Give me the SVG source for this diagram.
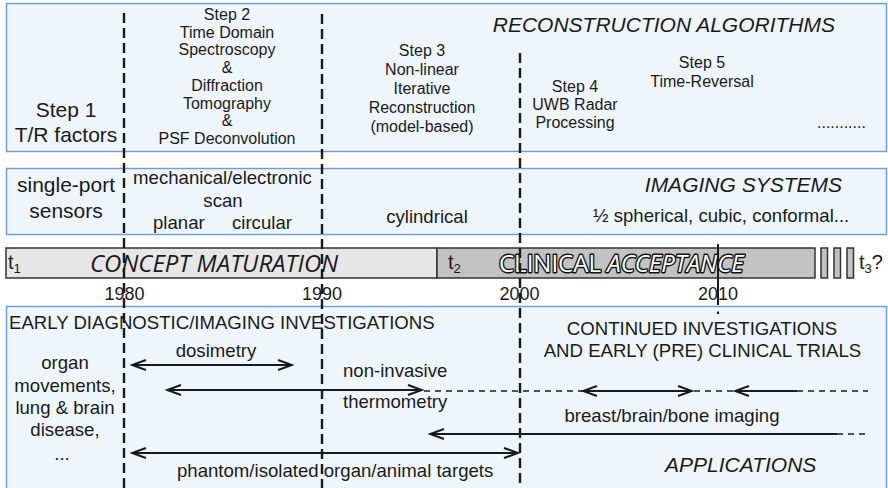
<svg xmlns="http://www.w3.org/2000/svg" width="888" height="488" viewBox="0 0 888 488">
  <defs>
    <marker id="head" viewBox="-16 -7 18 14" refX="0" refY="0" markerWidth="18" markerHeight="14" markerUnits="userSpaceOnUse" orient="auto-start-reverse">
      <path d="M-14,-5 L0,0 L-14,5" fill="none" stroke="#1a1a1a" stroke-width="2"/>
    </marker>
    <style>
      text { font-family: "Liberation Sans", Arial, sans-serif; fill: #1a1a1a; }
      .panel { fill: #eef6fc; stroke: #6f9fd8; stroke-width: 1.5; }
      .title { font-size: 21px; font-style: italic; }
      .big { font-size: 21px; }
      .step { font-size: 16px; text-anchor: middle; }
      .mid { font-size: 18.6px; }
      .c { text-anchor: middle; }
      .year { font-size: 18px; text-anchor: middle; }
      .era { font-family: "Open Sans", "Liberation Sans", sans-serif; font-size: 24px; }
      .bar { stroke: #333; stroke-width: 1.5; }
      .tl { font-size: 20px; }
      .sub { font-size: 13px; }
      .divider { stroke: #1a1a1a; stroke-width: 2.4; stroke-dasharray: 10 5; fill: none; }
      .span { stroke: #1a1a1a; stroke-width: 2; fill: none; }
      .ext { stroke: #1a1a1a; stroke-width: 1.5; stroke-dasharray: 6 5; fill: none; }
    </style>
  </defs>

  <!-- Reconstruction algorithms panel -->
  <g id="algorithms">
    <rect class="panel" x="6.5" y="3.5" width="880" height="148"/>
    <text class="title" x="835" y="32" text-anchor="end">RECONSTRUCTION ALGORITHMS</text>
    <g id="step1">
      <text class="big c" x="66" y="117">Step 1</text>
      <text class="big c" x="66" y="142">T/R factors</text>
    </g>
    <g id="step2">
      <text class="step" x="227" y="20">Step 2</text>
      <text class="step" x="227" y="37.7">Time Domain</text>
      <text class="step" x="227" y="55.4">Spectroscopy</text>
      <text class="step" x="227" y="73.1">&amp;</text>
      <text class="step" x="227" y="90.8">Diffraction</text>
      <text class="step" x="227" y="108.5">Tomography</text>
      <text class="step" x="227" y="126.2">&amp;</text>
      <text class="step" x="227" y="143.9">PSF Deconvolution</text>
    </g>
    <g id="step3">
      <text class="step" x="422" y="56">Step 3</text>
      <text class="step" x="422" y="75">Non-linear</text>
      <text class="step" x="422" y="94">Iterative</text>
      <text class="step" x="422" y="113">Reconstruction</text>
      <text class="step" x="422" y="132">(model-based)</text>
    </g>
    <g id="step4">
      <text class="step" x="575" y="92">Step 4</text>
      <text class="step" x="575" y="110">UWB Radar</text>
      <text class="step" x="575" y="128">Processing</text>
    </g>
    <g id="step5">
      <text class="step" x="702" y="68">Step 5</text>
      <text class="step" x="702" y="87">Time-Reversal</text>
    </g>
    <text x="817" y="128" font-size="16">...........</text>
  </g>

  <!-- Imaging systems panel -->
  <g id="systems">
    <rect class="panel" x="6.5" y="168.5" width="880" height="66"/>
    <text class="big c" x="66" y="192">single-port</text>
    <text class="big c" x="66" y="218">sensors</text>
    <text class="mid c" x="222.5" y="184">mechanical/electronic</text>
    <text class="mid c" x="223" y="207">scan</text>
    <text class="mid" x="153" y="229">planar</text>
    <text class="mid" x="232" y="229">circular</text>
    <text class="mid c" x="427" y="223">cylindrical</text>
    <text class="title" x="842" y="192" text-anchor="end">IMAGING SYSTEMS</text>
    <text class="mid" x="593" y="222">½ spherical, cubic, conformal...</text>
  </g>

  <!-- Time line bar -->
  <g id="timeline">
    <rect class="bar" x="6" y="248" width="431" height="30" fill="#e6e6e6"/>
    <rect class="bar" x="437" y="248" width="378" height="30" fill="#c2c2c2"/>
    <rect class="bar" x="821" y="248" width="6.5" height="30" fill="#c2c2c2"/>
    <rect class="bar" x="834" y="248" width="6.5" height="30" fill="#c2c2c2"/>
    <rect class="bar" x="847" y="248" width="6.5" height="30" fill="#c2c2c2"/>
    <text class="tl" x="8" y="269">t<tspan class="sub" dy="4">1</tspan></text>
    <text class="tl" x="448" y="269">t<tspan class="sub" dy="4">2</tspan></text>
    <text class="tl" x="859" y="269">t<tspan class="sub" dy="4">3</tspan><tspan dy="-4">?</tspan></text>
    <text class="era" x="90" y="272" font-style="italic">CONCEPT MATURATION</text>
    <!-- outlined lettering: dark stroke underneath, white fill on top -->
    <g opacity="0.99">
      <text class="era" x="499" y="272" style="fill:none;stroke:#111;stroke-width:2.8;stroke-linejoin:round">CLINICAL <tspan font-style="italic">ACCEPTANCE</tspan></text>
      <text class="era" x="499" y="272" style="fill:#ffffff">CLINICAL <tspan font-style="italic">ACCEPTANCE</tspan></text>
    </g>
  </g>

  <!-- Year labels -->
  <g id="years">
    <text class="year" x="124.5" y="300">1980</text>
    <text class="year" x="322" y="300">1990</text>
    <text class="year" x="519.5" y="300">2000</text>
    <text class="year" x="718" y="300">2010</text>
  </g>

  <!-- Applications panel -->
  <g id="applications">
    <rect class="panel" x="6.5" y="306.5" width="880" height="190"/>
    <text class="mid" x="9" y="329" font-size="19.2">EARLY DIAGNOSTIC/IMAGING INVESTIGATIONS</text>
    <text class="mid c" x="702" y="335">CONTINUED INVESTIGATIONS</text>
    <text class="mid c" x="702.5" y="357">AND EARLY (PRE) CLINICAL TRIALS</text>
    <text class="mid c" x="65" y="369">organ</text>
    <text class="mid c" x="65" y="392">movements,</text>
    <text class="mid c" x="65" y="414">lung &amp; brain</text>
    <text class="mid c" x="65" y="436">disease,</text>
    <text class="mid c" x="62" y="460">...</text>
    <text class="mid c" x="216" y="357">dosimetry</text>
    <text class="mid" x="343" y="377">non-invasive</text>
    <text class="mid" x="343" y="408">thermometry</text>
    <text class="mid c" x="672" y="422">breast/brain/bone imaging</text>
    <text class="mid" x="177" y="477">phantom/isolated organ/animal targets</text>
    <text class="title" x="665" y="472">APPLICATIONS</text>
  </g>

  <!-- Decade dividers, spans and arrows -->
  <g id="connectors">
    <line class="divider" x1="124" y1="13" x2="124" y2="488"/>
    <line class="divider" x1="322" y1="14" x2="322" y2="488"/>
    <line class="divider" x1="520" y1="53" x2="520" y2="488"/>
    <line class="span" x1="718" y1="244" x2="718" y2="305"/>
    <line class="span" x1="718" y1="311.5" x2="718" y2="314"/>

    <line class="span" x1="132" y1="365" x2="292" y2="365" marker-start="url(#head)" marker-end="url(#head)"/>

    <line class="span" x1="167" y1="390" x2="422" y2="390" marker-start="url(#head)" marker-end="url(#head)"/>
    <line class="ext" x1="424" y1="391" x2="583" y2="391"/>
    <line class="span" x1="583" y1="391" x2="692" y2="391" marker-start="url(#head)" marker-end="url(#head)"/>
    <line class="ext" x1="694" y1="391" x2="735" y2="391"/>
    <line class="span" x1="735" y1="391" x2="797" y2="391" marker-start="url(#head)"/>
    <line class="ext" x1="797" y1="391" x2="868" y2="391"/>

    <line class="span" x1="430" y1="434" x2="837" y2="434" marker-start="url(#head)"/>
    <line class="ext" x1="837" y1="434" x2="868" y2="434"/>

    <line class="span" x1="132" y1="453" x2="518" y2="453" marker-start="url(#head)" marker-end="url(#head)"/>
  </g>
</svg>
